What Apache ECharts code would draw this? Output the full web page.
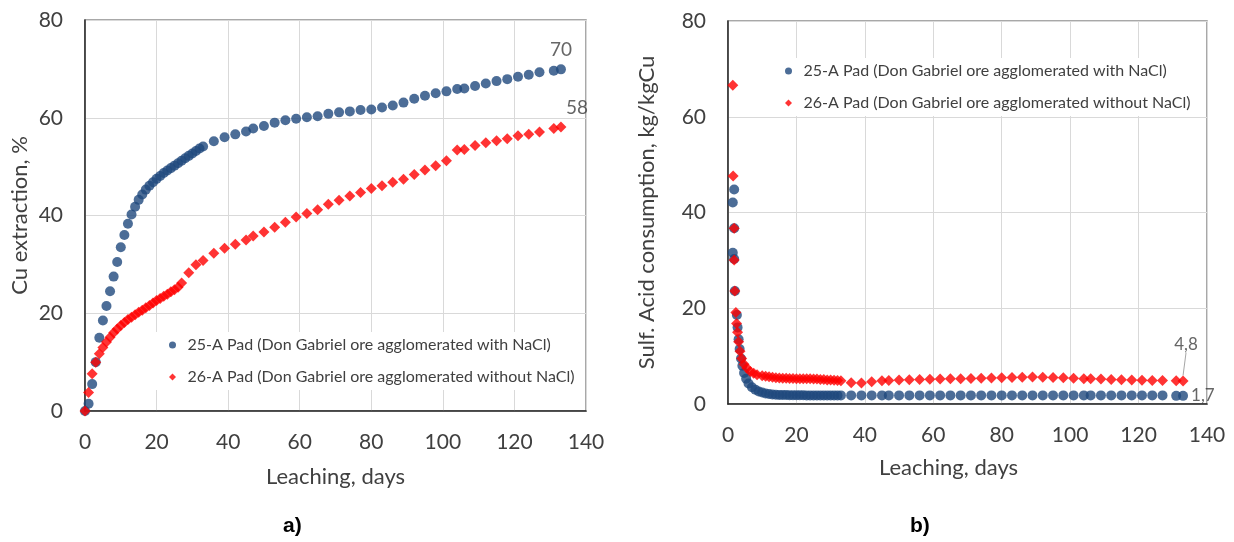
<!DOCTYPE html>
<html>
<head>
<meta charset="utf-8">
<script src="https://cdn.jsdelivr.net/npm/echarts@6/dist/echarts.min.js"></script>
<style>
html,body{margin:0;padding:0;background:#fff;}
#chart{width:1234px;height:542px;}
</style>
</head>
<body>
<div id="chart"></div>
<script>
// ---------- DATA ----------
const seriesNames = [
  '25-A Pad (Don Gabriel ore agglomerated with NaCl)',
  '26-A Pad (Don Gabriel ore agglomerated without NaCl)'
];
const xTicks = [0, 20, 40, 60, 80, 100, 120, 140];
const yTicks = [0, 20, 40, 60, 80];

// Chart a) Cu extraction, %
const cuDays25 = [0,1,2,3,4,5,6,7,8,9,10,11,12,13,14,15,16,17,18,19,20,21,22,23,24,25,26,27,28,29,30,31,32,33,
  36,39,42,45,47,50,53,56,59,62,65,68,71,74,77,80,83,86,89,92,95,98,101,104,106,109,112,115,118,121,124,127,131,133];
const cuExt25 = [0,1.5,5.5,10,15,18.5,21.5,24.5,27.5,30.5,33.5,36,38.3,40.2,41.8,43.2,44.3,45.3,46.1,46.8,47.5,48.1,48.7,49.2,49.7,50.2,50.7,51.2,51.7,52.2,52.7,53.2,53.7,54.1,
  55.2,56,56.6,57.2,57.8,58.3,59,59.5,59.8,60.1,60.3,60.8,61.1,61.3,61.6,61.7,62.1,62.5,63.1,63.9,64.5,65,65.4,65.9,66,66.5,67,67.5,67.9,68.4,68.8,69.3,69.6,69.9];

const cuDays26 = [0,1,2,3,4,5,6,7,8,9,10,11,12,13,14,15,16,17,18,19,20,21,22,23,24,25,26,27,
  29,31,33,36,39,42,45,47,50,53,56,59,62,65,68,71,74,77,80,83,86,89,92,95,98,101,104,106,109,112,115,118,121,124,127,131,133];
const cuExt26 = [0,3.8,7.6,10,11.7,13,14.1,15.1,16,16.8,17.5,18.1,18.7,19.2,19.7,20.2,20.6,21.1,21.6,22.1,22.6,23,23.5,23.9,24.4,24.8,25.3,26.2,
  28.3,29.9,30.8,32.3,33.3,34.1,35,35.8,36.6,37.6,38.6,39.7,40.4,41.2,42.3,43.1,44,44.7,45.5,46.1,46.8,47.4,48.4,49.3,50.2,51.2,53.4,53.5,54.3,54.9,55.3,55.7,56.3,56.6,57.1,57.8,58.1];

// Chart b) Sulf. acid consumption, kg/kgCu
const acidDays25 = [1.8,1.4,1.8,1.4,1.8,2.0,2.6,2.8,3.1,3.4,3.8,4.2,4.7,5.3,6,7,8,9,10,11,12,13,14,15,16,17,18,19,20,21,22,23,24,25,26,27,28,29,30,31,32,33,
  36,39,42,45,47,50,53,56,59,62,65,68,71,74,77,80,83,86,89,92,95,98,101,104,106,109,112,115,118,121,124,127,131,133];
const acid25 = [44.8,42.1,36.7,31.6,30.3,23.6,18.6,16,13.5,11.5,9.5,8,6.5,5.3,4.3,3.5,3,2.6,2.4,2.2,2.1,2.0,1.95,1.9,1.9,1.9,1.85,1.85,1.85,1.85,1.85,1.8,1.8,1.8,1.8,1.8,1.8,1.8,1.8,1.8,1.8,1.8,
  1.8,1.8,1.8,1.8,1.8,1.8,1.8,1.8,1.8,1.8,1.8,1.8,1.8,1.8,1.8,1.8,1.8,1.8,1.8,1.8,1.8,1.8,1.8,1.8,1.8,1.8,1.8,1.8,1.8,1.8,1.8,1.8,1.7,1.7];

const acidDays26 = [1.4,1.5,1.8,1.8,2.0,2.3,2.5,2.8,3.1,3.5,4,4.7,5.5,6.5,7.5,8.5,10,11,12,13,14,15,16,17,18,19,20,21,22,23,24,25,26,27,28,29,30,31,32,33,
  36,39,42,45,47,50,53,56,59,62,65,68,71,74,77,80,83,86,89,92,95,98,101,104,106,109,112,115,118,121,124,127,131,133];
const acid26 = [66.6,47.6,36.7,30.1,23.6,19.1,16.8,15,13,11,9.5,8.3,7.5,6.8,6.4,6.1,5.9,5.8,5.7,5.6,5.5,5.45,5.4,5.4,5.35,5.35,5.3,5.3,5.3,5.25,5.25,5.2,5.2,5.1,5.1,5.0,5.0,4.95,4.9,4.85,
  4.45,4.4,4.65,4.85,4.9,5.0,5.05,5.1,5.15,5.2,5.25,5.3,5.35,5.4,5.45,5.5,5.55,5.6,5.65,5.6,5.55,5.5,5.4,5.3,5.25,5.2,5.1,5.05,5.0,4.95,4.9,4.9,4.85,4.8];

const endLabels = ['70', '58', '1,7', '4,8'];

// ---------- STYLE ----------
const FONT = 'Lato';
const TXT = '#404040';
const BLUE = '#1F497D';
const RED = '#FF0000';
const DIAMOND = 'path://M0,-1L1,0L0,1L-1,0Z';

function pairs(xs, ys, lastLabel) {
  return xs.map((x, i) => {
    if (i === xs.length - 1 && lastLabel) {
      return { value: [x, ys[i]], label: lastLabel };
    }
    return [x, ys[i]];
  });
}

const grids = [
  { left: 85, top: 20, width: 501, height: 391 },
  { left: 728, top: 21, width: 479, height: 383 }
];

function xAxis(gridIndex, extra) {
  return Object.assign({
    type: 'value', gridIndex, min: xTicks[0], max: xTicks[xTicks.length - 1], interval: 20,
    name: 'Leaching, days', nameLocation: 'middle', nameGap: 55,
    nameTextStyle: { fontFamily: FONT, fontSize: 22, color: TXT },
    axisLine: { show: true, onZero: false, lineStyle: { color: '#262626', width: 1.5 } },
    axisTick: { show: false },
    axisLabel: { fontFamily: FONT, fontSize: 21, color: TXT, margin: 21 },
    splitLine: { show: true, lineStyle: { color: '#d9d9d9', width: 1 } }
  }, extra || {});
}
function yAxis(gridIndex, name, gap) {
  return {
    type: 'value', gridIndex, min: yTicks[0], max: yTicks[yTicks.length - 1], interval: 20,
    name, nameLocation: 'middle', nameGap: gap,
    nameTextStyle: { fontFamily: FONT, fontSize: 22, color: TXT },
    axisLine: { show: true, onZero: false, lineStyle: { color: '#262626', width: 1.5 } },
    axisTick: { show: false },
    axisLabel: { fontFamily: FONT, fontSize: 21, color: TXT, margin: 22 },
    splitLine: { show: true, lineStyle: { color: '#d9d9d9', width: 1 } }
  };
}

function legend(left, top, padLeft) {
  return {
    orient: 'vertical', left, top,
    data: [{ name: seriesNames[0], icon: 'circle' }, { name: seriesNames[1], icon: DIAMOND }],
    backgroundColor: '#ffffff',
    padding: [4, 8, 4, padLeft],
    itemWidth: 20, itemHeight: 7, itemGap: 14,
    symbolKeepAspect: true,
    textStyle: { fontFamily: FONT, fontSize: 16, color: TXT, lineHeight: 18 },
    selectedMode: false
  };
}

const option = {
  backgroundColor: '#ffffff',
  animation: false,
  grid: grids.map(g => Object.assign({ show: true, borderColor: '#8c8c8c', borderWidth: 1.5, backgroundColor: 'transparent' }, g)),
  xAxis: [xAxis(0), xAxis(1, { nameTextStyle: { fontFamily: FONT, fontSize: 22, color: TXT, padding: [0, 38, 0, 0] }, nameGap: 53 })],
  yAxis: [yAxis(0, 'Cu extraction, %', 54), yAxis(1, 'Sulf. Acid consumption, kg/kgCu', 70)],
  legend: [legend(154, 332, 15), legend(776, 58, 9)],
  graphic: [
    { type: 'text', left: 283, top: 516, style: { text: 'a)', font: 'bold 21px "Liberation Sans"', fill: '#000' } },
    { type: 'text', left: 910, top: 516, style: { text: 'b)', font: 'bold 21px "Liberation Sans"', fill: '#000' } }
  ],
  series: [
    {
      name: seriesNames[0], type: 'scatter', xAxisIndex: 0, yAxisIndex: 0,
      symbol: 'circle', symbolSize: 10, itemStyle: { color: BLUE },
      data: pairs(cuDays25, cuExt25,
        { show: true, position: 'top', distance: 5, formatter: endLabels[0], fontFamily: FONT, fontSize: 19, color: TXT })
    },
    {
      name: seriesNames[1], type: 'scatter', xAxisIndex: 0, yAxisIndex: 0,
      symbol: 'diamond', symbolSize: 11, itemStyle: { color: RED },
      data: pairs(cuDays26, cuExt26,
        { show: true, position: 'top', distance: 5, offset: [16, 1], formatter: endLabels[1], fontFamily: FONT, fontSize: 19, color: TXT })
    },
    {
      name: seriesNames[0], type: 'scatter', xAxisIndex: 1, yAxisIndex: 1,
      symbol: 'circle', symbolSize: 10, itemStyle: { color: BLUE },
      data: pairs(acidDays25, acid25,
        { show: true, position: 'right', distance: 3, formatter: endLabels[2], fontFamily: FONT, fontSize: 17, color: TXT })
    },
    {
      name: seriesNames[1], type: 'scatter', xAxisIndex: 1, yAxisIndex: 1,
      symbol: 'diamond', symbolSize: 11, itemStyle: { color: RED },
      labelLine: { show: true, lineStyle: { color: '#a6a6a6', width: 1 } },
      labelLayout: function (p) {
        return p.dataIndex === acidDays26.length - 1 ? { dx: 3, dy: -18 } : {};
      },
      data: pairs(acidDays26, acid26,
        { show: true, position: 'top', distance: 5, formatter: endLabels[3], fontFamily: FONT, fontSize: 17, color: TXT })
    }
  ]
};

const chart = echarts.init(document.getElementById('chart'), null, { renderer: 'canvas' });
chart.setOption(option);
</script>
</body>
</html>
